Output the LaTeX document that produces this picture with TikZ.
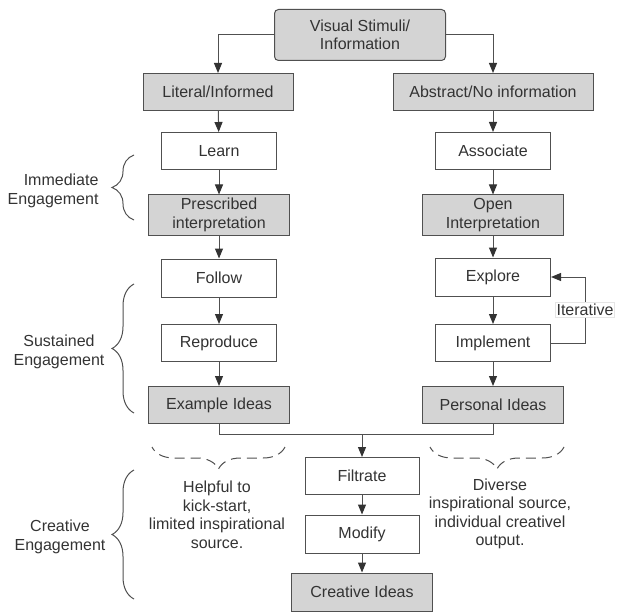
\documentclass[tikz,border=0pt]{standalone}
\usepackage{fontspec}
\setsansfont{Liberation Sans}
\usetikzlibrary{arrows.meta,decorations.pathreplacing}

\definecolor{boxgray}{HTML}{D4D4D4}
\definecolor{linegray}{HTML}{505050}
\definecolor{textgray}{HTML}{333333}

\begin{document}
\begin{tikzpicture}[x=1pt,y=-1pt,
    font=\sffamily\fontsize{16}{18.5}\selectfont,
    every node/.style={text=textgray},
    stage/.style={draw=linegray,line width=1pt,inner sep=0pt,minimum height=37pt,align=center},
    plain/.style={stage,fill=white,minimum width=115pt},
    result/.style={stage,fill=boxgray,minimum width=141pt},
    flow/.style={draw=linegray,line width=1pt,-{Triangle[length=10pt,width=8pt,color=textgray]}},
    link/.style={draw=linegray,line width=1pt},
    bracket/.style={draw=linegray,line width=1pt,decorate,decoration={brace,amplitude=22pt}},
    dbracket/.style={bracket,dash pattern=on 10pt off 6pt}]
  \useasboundingbox (0,0) rectangle (620,612);

  % top and the two ways
  \node[stage,fill=boxgray,rounded corners=4pt,minimum width=171pt,minimum height=51pt] (visual) at (360,35) {Visual Stimuli/\\Information};
  \node[stage,fill=boxgray,minimum width=150pt] (literal) at (218,92) {Literal/Informed};
  \node[stage,fill=boxgray,minimum width=200pt] (abstract) at (493,92) {Abstract/No information};

  % left column
  \node[plain] (learn) at (219,151) {Learn};
  \node[result,minimum height=40pt] (prescribed) at (219,215) {Prescribed\\interpretation};
  \node[plain,minimum height=38pt] (follow) at (219,278) {Follow};
  \node[plain] (reproduce) at (219,343) {Reproduce};
  \node[result] (example) at (219,405) {Example Ideas};

  % right column
  \node[plain] (associate) at (493,151) {Associate};
  \node[result,minimum height=40pt] (open) at (493,215) {Open\\Interpretation};
  \node[plain,minimum height=38pt] (explore) at (493,277) {Explore};
  \node[plain] (implement) at (493,343) {Implement};
  \node[result] (personal) at (493,405) {Personal Ideas};

  % bottom
  \coordinate (join) at (362,434);
  \node[plain,minimum width=114pt] (filtrate) at (362,476) {Filtrate};
  \node[plain,minimum width=114pt,minimum height=38pt] (modify) at (362,534) {Modify};
  \node[result,minimum height=38pt] (creative) at (362,592) {Creative Ideas};

  % side labels
  \node[anchor=east,align=right] (immediate) at (102,191) {Immediate\\Engagement};
  \node[align=center] (sustained) at (59,352) {Sustained\\Engagement};
  \node[align=center] (creativeeng) at (60,537) {Creative\\Engagement};
  \node[align=center] (helpful) at (217,515) {Helpful to\\kick-start,\\limited inspirational\\source.};
  \node[align=center] (diverse) at (500,514) {Diverse\\inspirational source,\\individual creativel\\output.};

  \begin{scope}
    \draw[flow] (visual.west) -| (literal.north);
    \draw[flow] (visual.east) -| (abstract.north);
    \draw[flow] (literal) -- (learn);
    \draw[flow] (learn) -- (prescribed);
    \draw[flow] (prescribed) -- (follow);
    \draw[flow] (follow) -- (reproduce);
    \draw[flow] (reproduce) -- (example);
    \draw[flow] (abstract) -- (associate);
    \draw[flow] (associate) -- (open);
    \draw[flow] (open) -- (explore);
    \draw[flow] (explore) -- (implement);
    \draw[flow] (implement) -- (personal);
    \draw[flow] (implement.east) -- ++(34,0) |- node[pos=0.25,fill=white,draw=black!10,inner sep=1.5pt] (iterative) {Iterative} (explore.east);
    \draw[link] (example.south) |- (join);
    \draw[link] (personal.south) |- (join);
    \draw[flow] (join) -- (filtrate);
    \draw[flow] (filtrate) -- (modify);
    \draw[flow] (modify) -- (creative);
  \end{scope}

  % braces
  \draw[bracket] (134,220) -- (134,155);
  \draw[bracket] (134,413) -- (134,284);
  \draw[bracket] (134,599) -- (134,470);
  \draw[dbracket] (285,447) -- (152,447);
  \draw[dbracket] (564,447) -- (430,447);
\end{tikzpicture}
\end{document}
